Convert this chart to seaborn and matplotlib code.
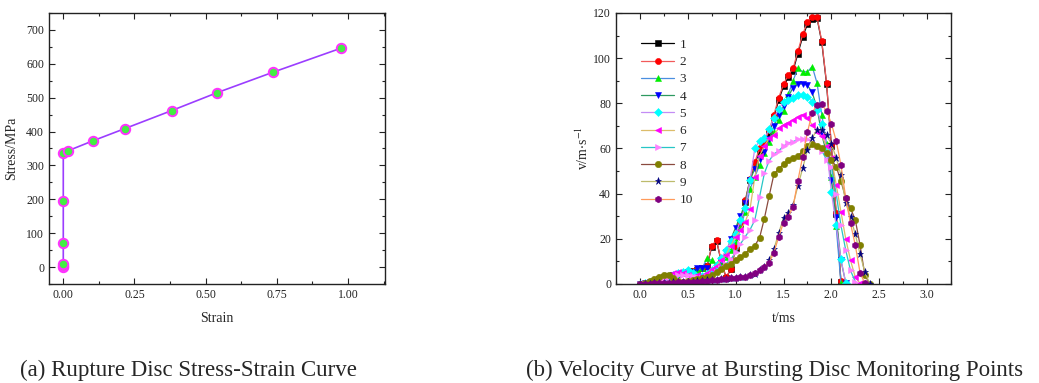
import numpy as np
import pandas as pd
import matplotlib
matplotlib.use("Agg")
import matplotlib.pyplot as plt
import seaborn as sns
from matplotlib.ticker import MultipleLocator, FormatStrFormatter

# ---------------- data: (a) stress-strain ----------------
strain = [0.0, 0.0, 0.0, 0.0, 0.0, 0.0, 0.016, 0.105, 0.217, 0.381, 0.541, 0.736, 0.975]
stress = [0, 4, 10, 70, 195, 338, 343, 373, 409, 462, 515, 575, 646]

# ---------------- data: (b) velocity at monitoring points ----------------
t_ms = [0.00, 0.05, 0.10, 0.15, 0.20, 0.25, 0.30, 0.35, 0.40, 0.45,
        0.50, 0.55, 0.60, 0.65, 0.70, 0.75, 0.80, 0.85, 0.90, 0.95,
        1.00, 1.05, 1.10, 1.15, 1.20, 1.25, 1.30, 1.35, 1.40, 1.45,
        1.50, 1.55, 1.60, 1.65, 1.70, 1.75, 1.80, 1.85, 1.90, 1.95,
        2.00, 2.05, 2.10, 2.15, 2.20, 2.25, 2.30, 2.35, 2.40]

v1 = [0, 0.3, 0.8, 1.4, 2.1, 2.9, 3.5, 4.1, 4.5, 4.9,
      5.2, 5.7, 6.4, 7.0, 7.8, 16.5, 19.2, 9.8, 2.8, 6.5,
      16.0, 26.5, 36.5, 46.0, 53.0, 59.0, 62.5, 67.0, 74.0, 81.5,
      87.5, 91.5, 94.5, 102.0, 109.5, 115.0, 117.5, 117.8, 107.0, 88.5,
      61.0, 31.0, 1.0]
v2 = [0, 0.3, 0.8, 1.5, 2.2, 3.0, 3.6, 4.2, 4.6, 5.0,
      5.3, 5.8, 6.5, 7.2, 8.0, 16.8, 19.5, 10.0, 3.0, 6.8,
      16.5, 27.0, 37.0, 46.5, 54.0, 60.0, 63.0, 68.0, 75.0, 82.5,
      88.5, 92.5, 95.5, 103.0, 110.5, 116.0, 118.2, 118.2, 107.5, 89.0,
      61.5, 31.5, 1.5]
v3 = [0, 0.3, 0.8, 1.4, 2.0, 2.8, 3.4, 4.0, 4.5, 4.9,
      5.2, 5.6, 6.2, 7.0, 11.3, 10.5, 8.8, 10.0, 12.0, 15.0,
      19.0, 25.0, 32.0, 42.0, 47.5, 52.5, 58.0, 63.0, 67.5, 72.5,
      76.8, 84.0, 90.0, 95.6, 94.0, 94.0, 96.3, 89.0, 75.0, 62.0,
      47.5, 25.6, 0.5]
v4 = [0, 0.3, 0.8, 1.4, 2.0, 2.7, 3.3, 3.9, 4.4, 4.8,
      5.1, 5.5, 7.0, 7.2, 7.0, 5.0, 7.5, 10.5, 14.0, 20.0,
      25.0, 30.0, 36.0, 46.0, 51.0, 55.5, 58.5, 64.0, 70.0, 75.0,
      78.6, 83.0, 87.0, 88.6, 88.6, 88.0, 84.8, 78.0, 66.0, 58.0,
      46.0, 29.5, 10.5, 0.5]
v5 = [0, 0.3, 0.7, 1.3, 2.0, 2.8, 3.5, 4.2, 4.8, 5.5,
      6.0, 5.0, 2.7, 3.5, 4.5, 6.0, 8.5, 11.5, 15.0, 19.0,
      22.0, 28.3, 33.5, 46.0, 60.0, 63.5, 64.5, 68.5, 73.5, 77.4,
      80.8, 81.5, 82.5, 83.5, 83.5, 83.0, 80.8, 77.0, 70.9, 60.0,
      40.8, 26.0, 11.0, 0.5]
v6 = [0, 0.3, 0.8, 1.5, 2.3, 3.2, 4.0, 4.8, 5.2, 5.0,
      4.2, 3.2, 4.0, 3.5, 5.0, 6.5, 8.0, 10.5, 13.0, 17.0,
      21.0, 23.8, 27.5, 33.2, 47.2, 56.8, 61.0, 64.5, 66.0, 69.0,
      70.5, 71.5, 72.7, 74.0, 75.0, 73.4, 70.5, 67.5, 65.5, 61.0,
      56.0, 44.0, 32.0, 20.0, 10.5, 3.0, 0.3]
v7 = [0, 0.3, 0.7, 1.2, 1.8, 2.5, 3.0, 3.5, 3.8, 4.0,
      4.0, 3.5, 3.0, 2.5, 3.0, 4.0, 5.5, 7.0, 9.0, 11.0,
      14.0, 17.7, 21.0, 24.0, 28.3, 38.6, 49.0, 54.6, 57.5, 59.0,
      61.0, 62.5, 63.0, 64.0, 64.0, 64.0, 63.0, 61.0, 59.0, 55.0,
      52.0, 40.0, 26.0, 15.0, 6.0, 1.0]
v8 = [0, 0.5, 1.2, 2.0, 3.0, 3.8, 3.8, 2.8, 1.5, 1.0,
      1.2, 1.6, 2.0, 2.6, 3.3, 4.2, 5.2, 6.5, 7.8, 9.0,
      10.5, 12.0, 13.5, 15.5, 17.0, 20.5, 29.0, 39.0, 48.6, 51.0,
      53.0, 55.0, 56.0, 56.5, 59.0, 61.0, 61.9, 61.0, 60.0, 58.0,
      55.0, 52.0, 45.6, 38.0, 33.5, 28.4, 17.2, 3.9, 0.2]
v9 = [0, 0.1, 0.2, 0.3, 0.4, 0.5, 0.5, 0.7, 0.8, 0.9,
      1.0, 1.1, 1.2, 1.3, 1.6, 1.8, 1.9, 2.2, 2.4, 2.6,
      2.8, 3.1, 3.3, 3.9, 4.6, 6.0, 7.6, 10.5, 15.5, 22.6,
      29.3, 31.5, 35.0, 43.4, 51.2, 59.3, 64.8, 68.2, 68.2, 66.0,
      62.0, 56.0, 48.2, 36.0, 29.5, 22.0, 13.2, 5.3, 0.2]
v10 = [0, 0.1, 0.2, 0.3, 0.3, 0.4, 0.5, 0.6, 0.7, 0.8,
       0.9, 1.0, 1.1, 1.3, 1.5, 1.7, 1.9, 2.1, 2.3, 2.5,
       2.7, 3.0, 3.3, 3.9, 4.9, 6.0, 7.5, 9.5, 13.9, 20.9,
       27.2, 29.8, 34.2, 45.7, 56.4, 67.2, 75.9, 79.3, 79.6, 76.7,
       71.0, 63.5, 52.7, 38.2, 26.8, 17.2, 4.9, 0.3]

series_labels = ["1", "2", "3", "4", "5", "6", "7", "8", "9", "10"]
series_values = [v1, v2, v3, v4, v5, v6, v7, v8, v9, v10]

caption_a = "(a) Rupture Disc Stress-Strain Curve"
caption_b = "(b) Velocity Curve at Bursting Disc Monitoring Points"

# ---------------- styles ----------------
line_colors = ["#000000", "#f25a5a", "#4a8fe0", "#2e9960", "#c38cf5",
               "#dcbc6a", "#27c6c6", "#8a4a3e", "#bdbb6c", "#ff9a5a"]
marker_colors = ["#000000", "#ff0000", "#00ee00", "#0000ff", "#00ffff",
                 "#ff00ff", "#ff80ff", "#808000", "#000080", "#800080"]
marker_shapes = ["s", "o", "^", "v", "D", "<", ">", "o", "*", "h"]
marker_sizes = [4.2, 4.4, 4.6, 4.6, 3.8, 4.6, 4.6, 4.6, 5.2, 4.8]

sns.set_theme(style="ticks")
plt.rcParams["font.family"] = ["Liberation Serif", "DejaVu Serif"]
plt.rcParams["mathtext.fontset"] = "stix"

fig = plt.figure(figsize=(10.39, 3.83), dpi=100)
ax1 = fig.add_axes([0.0472, 0.2585, 0.3234, 0.7076])
ax2 = fig.add_axes([0.5929, 0.2585, 0.3224, 0.7076])

# ---- (a) ----
df_a = pd.DataFrame({"Strain": strain, "Stress": stress})
sns.lineplot(data=df_a, x="Strain", y="Stress", ax=ax1, estimator=None, sort=False,
             color="#9b3dff", linewidth=1.2, marker="o", markersize=6.8,
             markerfacecolor="#44ee44", markeredgecolor="#ff33ff",
             markeredgewidth=1.4, legend=False)
ax1.set_xlim(-0.05, 1.13)
ax1.set_ylim(-50, 750)
ax1.xaxis.set_major_locator(MultipleLocator(0.25))
ax1.xaxis.set_minor_locator(MultipleLocator(0.125))
ax1.xaxis.set_major_formatter(FormatStrFormatter("%.2f"))
ax1.yaxis.set_major_locator(MultipleLocator(100))
ax1.yaxis.set_minor_locator(MultipleLocator(50))
ax1.set_xlabel("Strain", fontsize=10, labelpad=8)
ax1.set_ylabel("Stress/MPa", fontsize=10, labelpad=6)

# ---- (b) ----
for lab, vals, lc, mc, mk, ms in zip(series_labels, series_values, line_colors,
                                     marker_colors, marker_shapes, marker_sizes):
    d = pd.DataFrame({"t": t_ms[:len(vals)], "v": vals})
    sns.lineplot(data=d, x="t", y="v", ax=ax2, estimator=None, sort=False,
                 color=lc, linewidth=0.9, marker=mk, markersize=ms,
                 markerfacecolor=mc, markeredgecolor=mc, markeredgewidth=0.4,
                 label=lab, legend=False)
ax2.set_xlim(-0.25, 3.25)
ax2.set_ylim(0, 120)
ax2.xaxis.set_major_locator(MultipleLocator(0.5))
ax2.xaxis.set_minor_locator(MultipleLocator(0.25))
ax2.xaxis.set_major_formatter(FormatStrFormatter("%.1f"))
ax2.yaxis.set_major_locator(MultipleLocator(20))
ax2.yaxis.set_minor_locator(MultipleLocator(10))
ax2.set_xlabel("t/ms", fontsize=10, labelpad=8)
ax2.set_ylabel(r"v/m$\cdot$s$^{-1}$", fontsize=10, labelpad=2)

handles, labels = ax2.get_legend_handles_labels()
ax2.legend(handles, labels, loc="upper left", bbox_to_anchor=(0.075, 0.905),
           frameon=False, fontsize=9.5, handlelength=2.5, handletextpad=0.4,
           labelspacing=0.38, borderaxespad=0, borderpad=0)

for ax in (ax1, ax2):
    for sp in ax.spines.values():
        sp.set_linewidth(1.0)
        sp.set_color("#222222")
    ax.tick_params(which="both", direction="in", top=True, right=True,
                   labelsize=8.5, colors="#222222", width=0.8)
    ax.tick_params(which="major", length=4)
    ax.tick_params(which="minor", length=2.5)
    ax.grid(False)

fig.text(188 / 1039, 1 - 370 / 383, caption_a, ha="center", va="center", fontsize=16.5)
fig.text(775 / 1039, 1 - 370 / 383, caption_b, ha="center", va="center", fontsize=16.5)

fig.savefig("out.png", dpi=100)
